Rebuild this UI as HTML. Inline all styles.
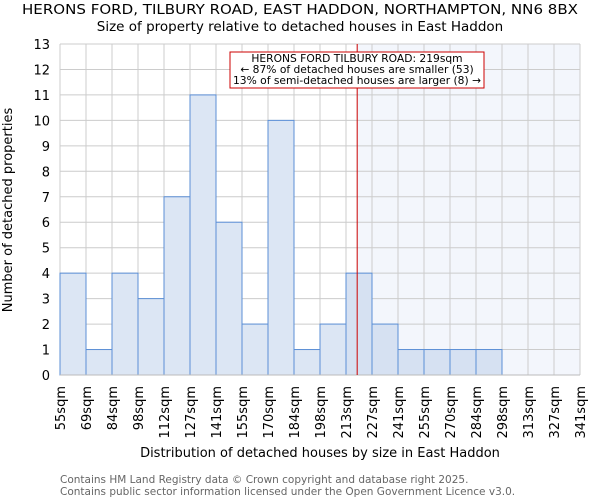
<!DOCTYPE html>
<html><head><meta charset="utf-8"><style>
body{margin:0;background:#fff;font-family:"DejaVu Sans","Liberation Sans",sans-serif}
</style></head><body>
<svg id="chart" width="600" height="500" xmlns="http://www.w3.org/2000/svg" font-family="DejaVu Sans, Liberation Sans, sans-serif">
<text x="300" y="14" text-anchor="middle" font-size="13" textLength="556" lengthAdjust="spacingAndGlyphs" fill="#000">HERONS FORD, TILBURY ROAD, EAST HADDON, NORTHAMPTON, NN6 8BX</text>
<text x="300" y="31" text-anchor="middle" font-size="13.5" fill="#000">Size of property relative to detached houses in East Haddon</text>
<g id="plot"></g>
<text transform="translate(12,210) rotate(-90)" text-anchor="middle" font-size="13">Number of detached properties</text>
<text x="320" y="457" text-anchor="middle" font-size="13">Distribution of detached houses by size in East Haddon</text>
<text x="60" y="483" font-size="10.5" fill="#666">Contains HM Land Registry data © Crown copyright and database right 2025.</text>
<text x="60" y="495" font-size="10.5" fill="#666">Contains public sector information licensed under the Open Government Licence v3.0.</text>
</svg>
<script>
const binLabels = ["55sqm","69sqm","84sqm","98sqm","112sqm","127sqm","141sqm","155sqm","170sqm","184sqm","198sqm","213sqm","227sqm","241sqm","255sqm","270sqm","284sqm","298sqm","313sqm","327sqm","341sqm"];
const counts = [4,1,4,3,7,11,6,2,10,1,2,4,2,1,1,1,1,0,0,0];
const yTicks = [0,1,2,3,4,5,6,7,8,9,10,11,12,13];
const markerBinIndex = 11.43;
const NS="http://www.w3.org/2000/svg";
const L=60,R=580,T=44,B=375,yMax=13;
const nb=counts.length;
const x=i=>L+i*(R-L)/nb;
const y=v=>B-v*(B-T)/yMax;
const g=document.getElementById('plot');
function mk(t,a){const e=document.createElementNS(NS,t);for(const k in a)e.setAttribute(k,a[k]);g.appendChild(e);return e;}
const mx=x(markerBinIndex);
let e=mk('rect',{x:mx,y:T,width:R-mx,height:B-T,fill:'#f3f6fc'});


yTicks.forEach(v=>{
 let l=mk('line',{x1:L,x2:R,y1:y(v),y2:y(v),stroke:'#ccc','stroke-width':1});
 
 
 let t=mk('text',{x:L-10,y:y(v)+5,'text-anchor':'end','font-size':13});
 t.textContent=v;
 
 
});
binLabels.forEach((s,i)=>{
 let l=mk('line',{x1:x(i),x2:x(i),y1:T,y2:B,stroke:'#ccc','stroke-width':1});
 
 
 let t=mk('text',{transform:`translate(${x(i)+5},386) rotate(-90)`,'text-anchor':'end','font-size':13});
 t.textContent=s;
 
 
});
counts.forEach((c,i)=>{
 if(c<=0)return;
 let r=mk('rect',{x:x(i),y:y(c),width:x(i+1)-x(i),height:B-y(c),fill:i>=11?'#d6e1f2':'#dce6f4',stroke:'#5b8fd6','stroke-width':1});
 
 
});
let ax=mk('line',{x1:L,x2:R,y1:B,y2:B,stroke:'#bbb','stroke-width':1});


let ml=mk('line',{x1:mx,x2:mx,y1:T,y2:B,stroke:'#cc0000','stroke-width':1});


let bx=mk('rect',{x:230,y:52,width:254,height:36,fill:'#fff',stroke:'#cc0000','stroke-width':1});


["HERONS FORD TILBURY ROAD: 219sqm","← 87% of detached houses are smaller (53)","13% of semi-detached houses are larger (8) →"].forEach((s,i)=>{
 let t=mk('text',{x:357,y:62+i*11,'text-anchor':'middle','font-size':10.7});
 t.textContent=s;
 
 
});
</script>
</body></html>
